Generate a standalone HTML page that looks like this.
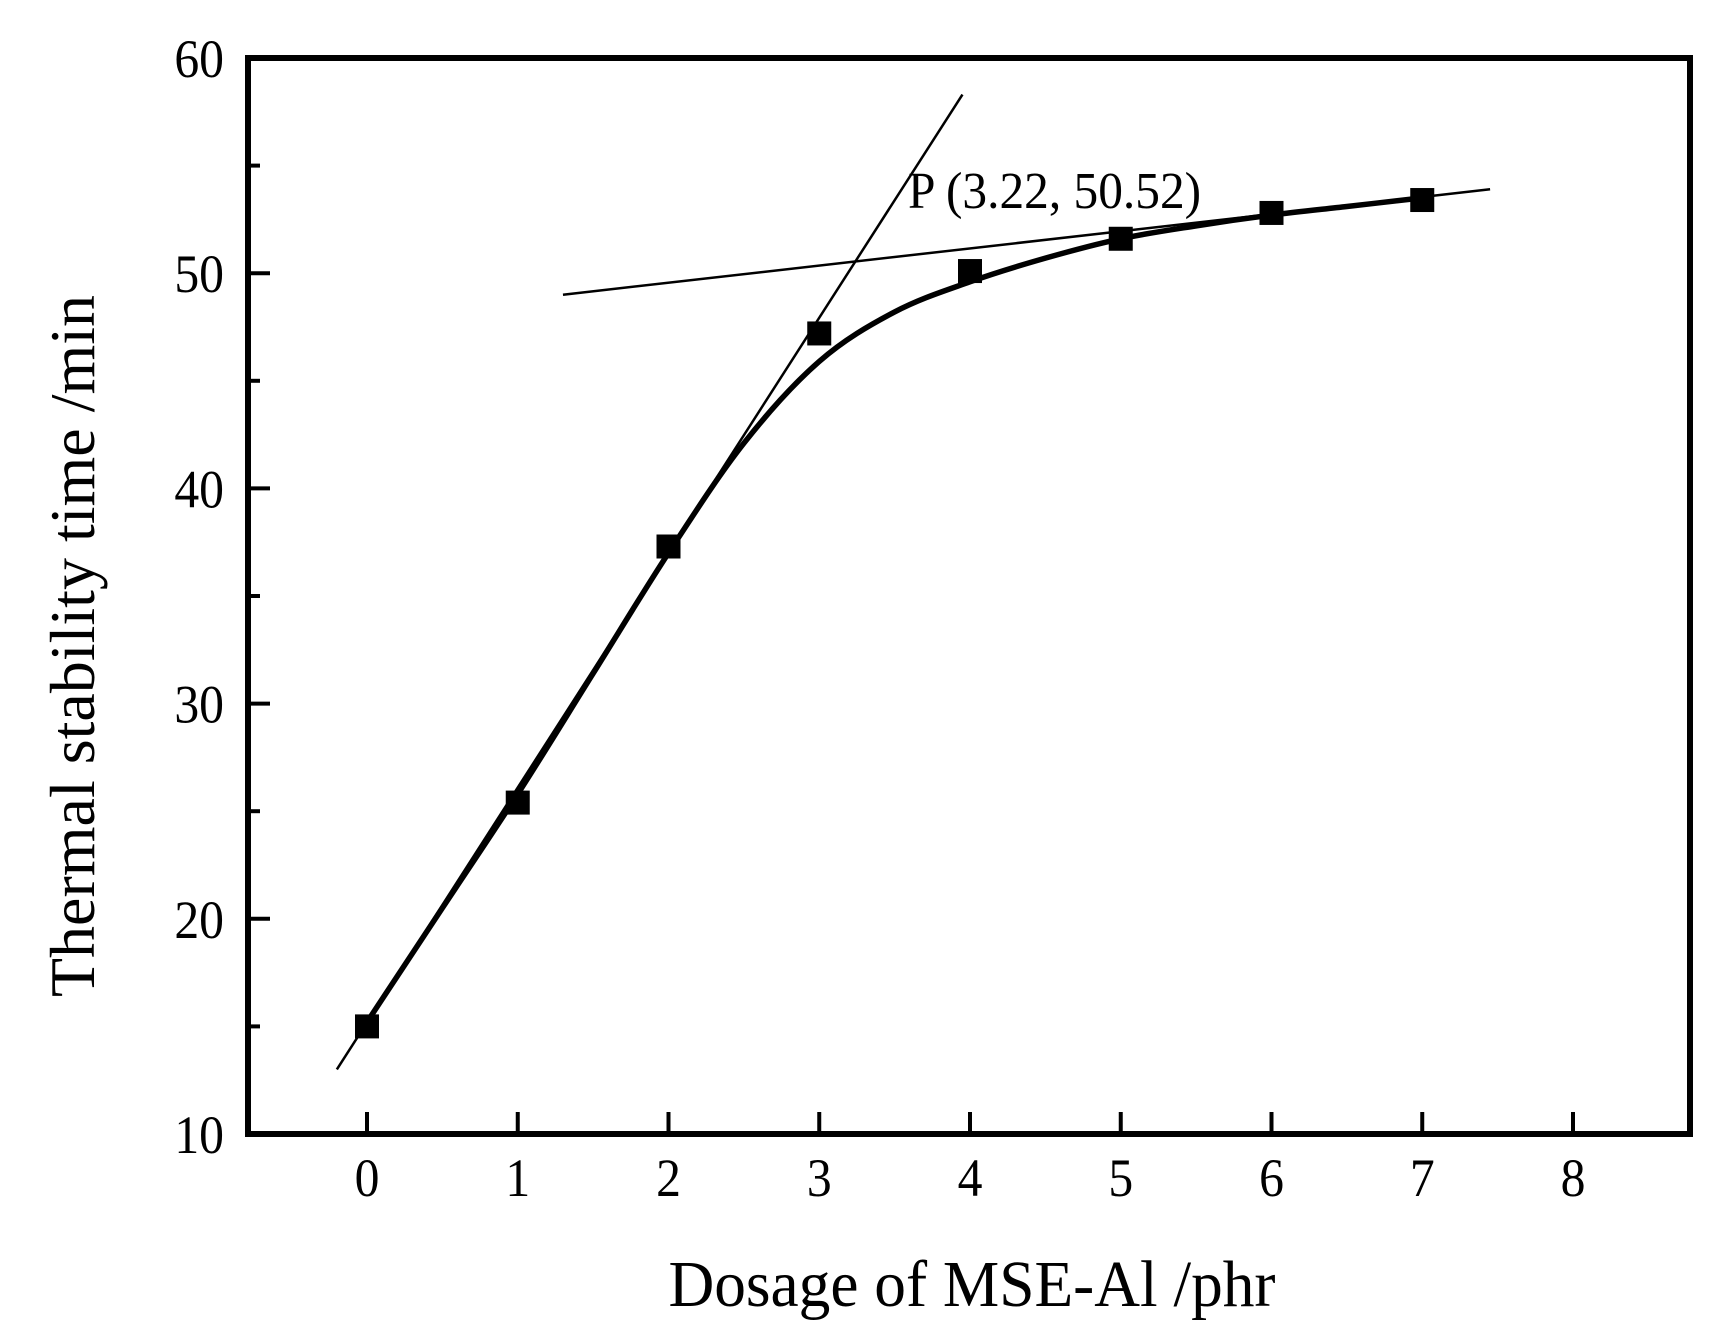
<!DOCTYPE html>
<html><head><meta charset="utf-8"><style>
body{margin:0;background:#fff}
svg{display:block;font-family:"Liberation Serif",serif}
</style></head><body>
<svg id="c" width="1727" height="1342"></svg>
<script>
const xTicks=[0,1,2,3,4,5,6,7,8];
const yTicks=[10,20,30,40,50,60];
const yMinor=[15,25,35,45,55];
const dosage=[0,1,2,3,4,5,6,7];
const stabilityTime=[15.0,25.4,37.3,47.2,50.1,51.6,52.8,53.4];
const fitX=[0,0.5,1,1.5,2,2.5,3,3.5,4,4.5,5,5.5,6,6.5,7];
const fitY=[15.2,20.5,25.8,31.4,37.0,42.1,45.9,48.2,49.6,50.7,51.6,52.2,52.7,53.1,53.5];
const tangent1=[[-0.2,13.0],[3.95,58.3]];
const tangent2=[[1.3,49.0],[7.45,53.9]];
const pointLabel="P (3.22, 50.52)";
const X=v=>367+v*150.75;
const Y=v=>1134-(v-10)*21.52;
const svg=document.getElementById('c');
const NS='http://www.w3.org/2000/svg';
function mk(t,a,p){const e=document.createElementNS(NS,t);for(const k in a)e.setAttribute(k,a[k]);(p||svg).appendChild(e);return e;}
let e;
e=mk('rect',{x:248,y:58,width:1442,height:1076,fill:'none',stroke:'#000','stroke-width':6});


xTicks.forEach(v=>{
 e=mk('line',{x1:X(v),x2:X(v),y1:1134,y2:1112,stroke:'#000','stroke-width':4});
 
 
 e=mk('text',{x:0,y:0,'font-size':54,'text-anchor':'middle',transform:'translate('+X(v)+',1196) scale(0.92,1)'});e.textContent=v;
 
 
});
yTicks.forEach(v=>{
 e=mk('line',{x1:248,x2:270,y1:Y(v),y2:Y(v),stroke:'#000','stroke-width':4});
 
 
 e=mk('text',{x:0,y:0,'font-size':54,'text-anchor':'end',transform:'translate(224,'+(Y(v)+19)+') scale(0.92,1)'});e.textContent=v;
 
 
});
yMinor.forEach(v=>{
 e=mk('line',{x1:248,x2:260,y1:Y(v),y2:Y(v),stroke:'#000','stroke-width':4});
 
 
});
[tangent1,tangent2].forEach((t,i)=>{
 e=mk('line',{x1:X(t[0][0]),y1:Y(t[0][1]),x2:X(t[1][0]),y2:Y(t[1][1]),stroke:'#000','stroke-width':2.5});
 
 
});
const P=fitX.map((x,i)=>[X(x),Y(fitY[i])]);
let d='M'+P[0][0]+','+P[0][1];
for(let i=0;i<P.length-1;i++){
 const p0=P[i-1]||P[i],p1=P[i],p2=P[i+1],p3=P[i+2]||P[i+1];
 d+=' C'+(p1[0]+(p2[0]-p0[0])/6)+','+(p1[1]+(p2[1]-p0[1])/6)+' '+(p2[0]-(p3[0]-p1[0])/6)+','+(p2[1]-(p3[1]-p1[1])/6)+' '+p2[0]+','+p2[1];
}
e=mk('path',{d:d,fill:'none',stroke:'#000','stroke-width':5.5,'stroke-linejoin':'round'});


dosage.forEach((x,i)=>{
 e=mk('rect',{x:X(x)-12,y:Y(stabilityTime[i])-12,width:24,height:24,fill:'#000'});
 
 
});
e=mk('text',{x:0,y:0,'font-size':52,transform:'translate(908,208) scale(0.95,1)'});e.textContent=pointLabel;


e=mk('text',{x:0,y:0,'font-size':66,'text-anchor':'middle',transform:'translate(972,1306) scale(0.96,1)'});e.textContent='Dosage of MSE-Al /phr';


e=mk('text',{x:0,y:0,'font-size':64,'text-anchor':'middle',transform:'translate(94,646) rotate(-90)'});e.textContent='Thermal stability time /min';


</script>
</body></html>
